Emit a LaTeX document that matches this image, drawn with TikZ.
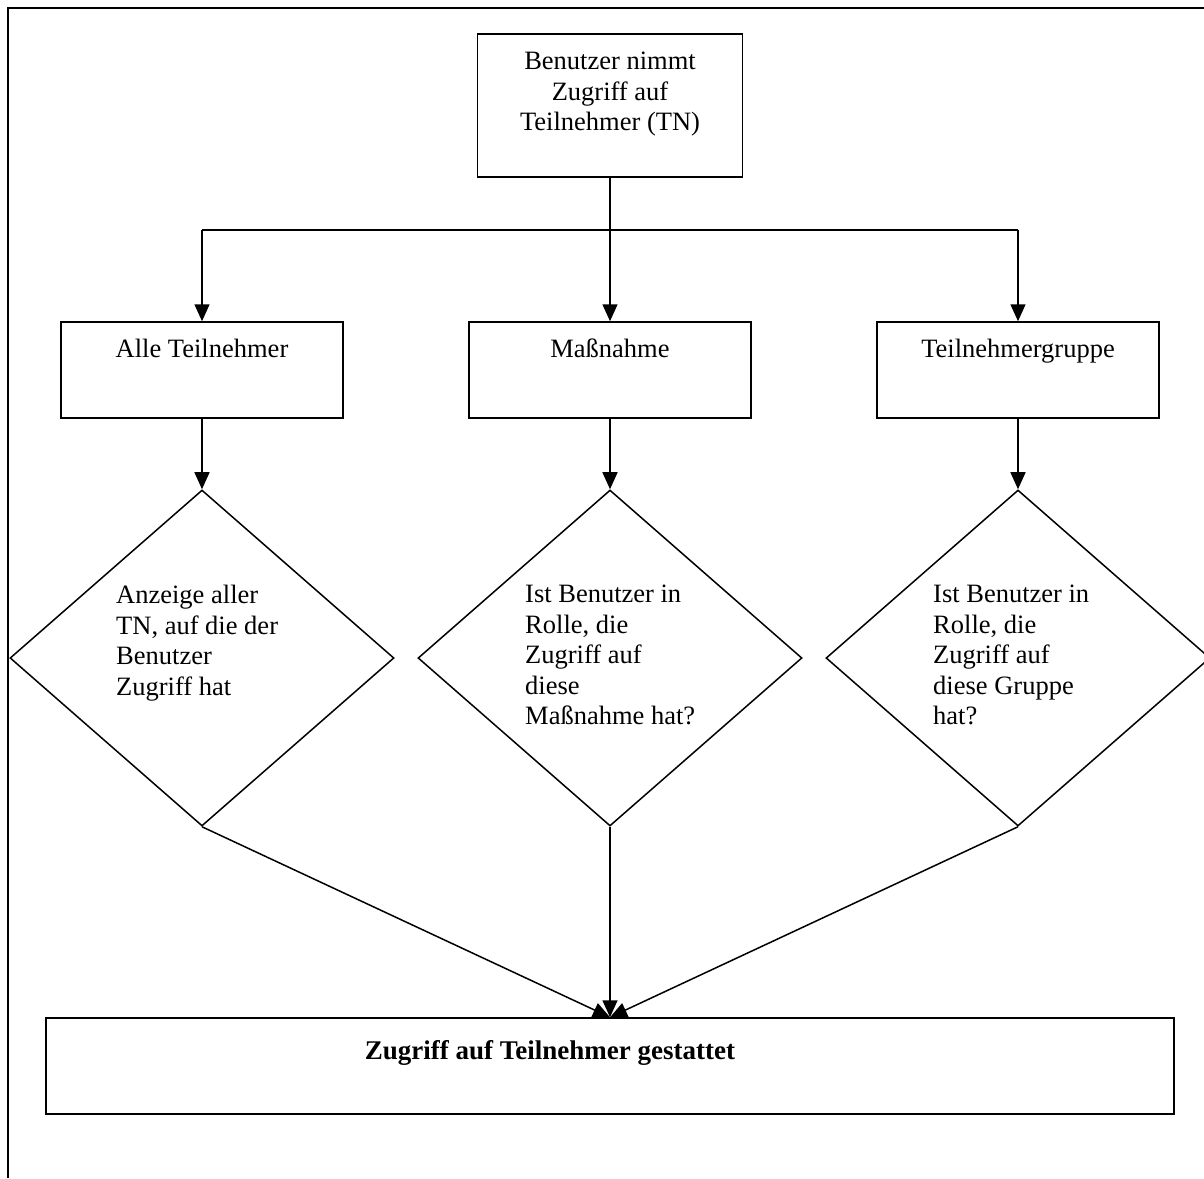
\documentclass[tikz,border=0pt]{standalone}
\usepackage{fontspec}
\setmainfont{Liberation Serif}
\usetikzlibrary{arrows.meta,shapes.geometric}

\tikzset{
  box/.style={draw, line width=1.5pt, rectangle, inner sep=0pt},
  decision/.style={draw, line width=1.5pt, diamond, inner sep=0pt, minimum width=384pt, minimum height=336pt},
  txt/.style={inner sep=0pt, font=\fontsize{26.5}{30.5}\selectfont},
  flow/.style={line width=1.5pt, -{Triangle[length=17pt,width=15pt]}},
}

\begin{document}
\begin{tikzpicture}[x=1pt,y=-1pt]
            \useasboundingbox (0,0) rectangle (1204,1178);
            % Frame, cut off at the right and at the bottom
            \draw[line width=1.5pt] (8,1178) -- (8,8) -- (1204,8);

            % Start box at the top
            \node[box, minimum width=265pt, minimum height=143pt] (start) at (610,105.5) {};
            \node[txt, align=center, anchor=north] (starttxt) at (610,52) {Benutzer nimmt\\Zugriff auf\\Teilnehmer (TN)};

            % Three kinds of access, one box each
            \foreach \name/\x/\what in {all/202/Alle Teilnehmer, mass/610/Maßnahme, group/1018/Teilnehmergruppe} {
                \node[box, minimum width=282pt, minimum height=96pt] (\name) at (\x,370) {};
                \node[txt, anchor=base] (\name txt) at (\x,357) {\what};
            }

            % Split line below the start box
            \coordinate (busL) at (202,230);
            \coordinate (busR) at (1018,230);
            \draw[line width=1.5pt] (busL) -- (busR);
            \draw[flow] (start) -- (mass);
            \draw[flow] (busL) -- (all);
            \draw[flow] (busR) -- (group);

            % Decisions below the boxes
            \node[decision] (dall) at (202,658) {};
            \node[decision] (dmass) at (610,658) {};
            \node[decision] (dgroup) at (1018,658) {};
            \node[txt, align=left, anchor=north west] (dalltxt) at (116,585) {Anzeige aller\\TN, auf die der\\Benutzer\\Zugriff hat};
            \node[txt, align=left, anchor=north west] (dmasstxt) at (525,585) {Ist Benutzer in\\Rolle, die\\Zugriff auf\\diese\\Maßnahme hat?};
            \node[txt, align=left, anchor=north west] (dgrouptxt) at (933,585) {Ist Benutzer in\\Rolle, die\\Zugriff auf\\diese Gruppe\\hat?};
            \foreach \b/\d in {all/dall, mass/dmass, group/dgroup} {
                \draw[flow] (\b) -- (\d);
            }

            % Result box at the bottom
            \node[box, minimum width=1128pt, minimum height=96pt] (final) at (610,1066) {};
            \node[txt, font=\fontsize{27}{31}\selectfont\bfseries, anchor=base] (finaltxt) at (550,1059) {Zugriff auf Teilnehmer gestattet};

            % All three decisions lead to the result
            \foreach \d in {dall,dmass,dgroup} {
                \draw[flow] (\d.south) -- (final.north);
            }
\end{tikzpicture}
\end{document}
